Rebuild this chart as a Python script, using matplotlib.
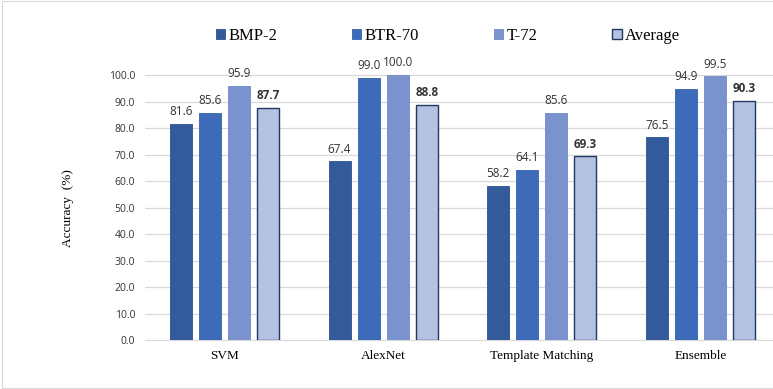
import numpy as np
import matplotlib.pyplot as plt
from matplotlib.patches import Rectangle

# Accuracy per classifier and target class
methods = ["SVM", "AlexNet", "Template Matching", "Ensemble"]
series = ["BMP-2", "BTR-70", "T-72", "Average"]
bmp2 = [81.6, 67.4, 58.2, 76.5]
btr70 = [85.6, 99.0, 64.1, 94.9]
t72 = [95.9, 100.0, 85.6, 99.5]
average = [87.7, 88.8, 69.3, 90.3]

colors = ["#335a9a", "#3d6bb9", "#7a93cf", "#b4c1e1"]
edges = ["#2d5190", "#3661ab", "#6f89c6", "#1f3864"]

fig = plt.figure(figsize=(7.73, 3.89), dpi=100)
# plot area runs past the right edge of the canvas
ax = fig.add_axes([145 / 773, 49 / 389, 635 / 773, 290 / 389])

x = np.arange(len(methods))
w = 0.139
step = 0.183
for i, (vals, c, e) in enumerate(zip([bmp2, btr70, t72, average], colors, edges)):
    pos = x + (i - 1.5) * step
    ax.bar(pos, vals, w, color=c, edgecolor=e, linewidth=1.0 if i == 3 else 0.6,
           label=series[i], zorder=3)
    for p, v in zip(pos, vals):
        ax.text(p, v + 2.2, f"{v:.1f}", ha="center", va="bottom", fontsize=8.5,
                family="Open Sans", color="#333333",
                fontweight="bold" if i == 3 else "normal")

ax.set_xlim(-0.5, 3.5)
ax.set_ylim(0, 109.5)
ax.set_yticks(np.arange(0, 101, 10))
ax.set_yticklabels([f"{v:.1f}" for v in range(0, 101, 10)], family="Open Sans",
                   fontsize=7.5, color="#333333")
ax.yaxis.grid(True, color="#d9d9d9", linewidth=0.9, zorder=0)
ax.set_xticks(x)
ax.set_xticklabels(methods, family="Liberation Serif", fontsize=9.5)
ax.tick_params(length=0, pad=7)
for s in ["top", "right", "left"]:
    ax.spines[s].set_visible(False)
ax.spines["bottom"].set_color("#d9d9d9")

fig.text(68 / 773, 1 - 208 / 389, "Accuracy  (%)", rotation=90, ha="center",
         va="center", family="Liberation Serif", fontsize=9.5)

leg = fig.legend(loc="center", bbox_to_anchor=(448 / 773, 1 - 36 / 389), ncol=4,
                 frameon=False, prop={"family": "Liberation Serif", "size": 12},
                 handlelength=0.55, handleheight=0.55, handletextpad=0.2,
                 columnspacing=4.5)

fig.patches.append(Rectangle((0.002, 0.003), 1.1, 0.994, transform=fig.transFigure,
                             fill=False, edgecolor="#d9d9d9", linewidth=0.8))

fig.savefig("out.png", dpi=100)
